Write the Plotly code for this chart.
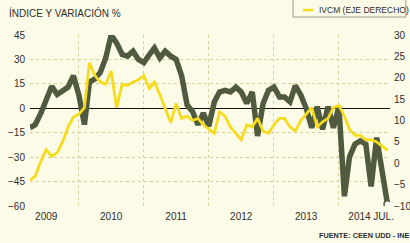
import pandas as pd
import plotly.graph_objects as go

# Monthly observations, Apr 2009 onward
start_month = "2009-04-01"
n_points = 67
months = pd.date_range(start_month, periods=n_points, freq="MS")

# Left axis series (índice)
indice = [
    -12, -10, -3, 5, 13.5, 8.5, 11, 13, 20, 8,
    -10, 16, 18, 22, 31, 45, 40, 33, 32, 35,
    30, 28, 33, 37, 31, 35, 32, 30, 20, 2,
    -2, -10, -3, -11, 4, 10, 11, 10, 13, 10,
    3, 10, -17, 3, 11, 13, 7, 7, 4, 14,
    8, 0, -12, 1, -13, 1, -12, 1, -54, -30,
    -22, -20, -22, -48, -18, -40, -59,
]

# Right axis series (IVCM, variación %)
ivcm = [
    -4, -3, 0.5, 3.2, 1.6, 2.5, 5, 8.5, 10.8, 11.5,
    13, 23.5, 20.5, 19, 18.5, 21.6, 13, 18.5, 18.2, 19,
    19.5, 20.5, 17.5, 19, 16, 13, 9.5, 14, 10.5, 11,
    10, 10.5, 9, 8, 7, 12, 11, 8.5, 7, 5.5,
    9, 8.5, 10.5, 7.5, 7, 9, 10.5, 10.5, 8.5, 7.5,
    10, 11.5, 13, 8.5, 9.7, 10.5, 13, 13.5, 11, 8,
    6.5, 6.5, 5.5, 5.5, 5, 4, 3,
]

year_label_dates = ["2009-07-01", "2010-07-01", "2011-07-01", "2012-07-01", "2013-07-01", "2014-07-01"]
year_labels = ["2009", "2010", "2011", "2012", "2013", "2014 JUL."]
year_bounds = ["2010-01-01", "2011-01-01", "2012-01-01", "2013-01-01", "2014-01-01"]
left_ticks = [45, 30, 15, 0, -15, -30, -45, -60]
right_ticks = [30, 25, 20, 15, 10, 5, 0, -5, -10]

series1_name = "ÍNDICE CEEN UDD"
series2_name = "IVCM (EJE DERECHO)"

BG = "#fcfbe7"
DARK = "#4f5a3e"
YELLOW = "#f6dc1c"
GRID = "#d6d19a"
TXT = "#2e2e2e"
FONT = "Liberation Sans Narrow, Arial Narrow, Liberation Sans, sans-serif"

fig = go.Figure()
fig.add_trace(go.Scatter(
    x=months, y=indice, name=series1_name, mode="lines",
    line=dict(color=DARK, width=5.5), yaxis="y", showlegend=False,
))
fig.add_trace(go.Scatter(
    x=months, y=ivcm, name=series2_name, mode="lines",
    line=dict(color=YELLOW, width=2.8), yaxis="y2", showlegend=False,
))
fig.add_trace(go.Scatter(
    x=[months[-1]], y=[indice[-1]], mode="markers", showlegend=False,
    marker=dict(color="white", size=7, line=dict(color=DARK, width=1.5)),
    yaxis="y",
))

# Legend box (top entry clipped by the top edge, as in the source)
legend_shapes = [
    dict(type="rect", xref="paper", yref="paper", x0=0.7306, x1=1.044, y0=1.105, y1=1.30,
         line=dict(color="#9a9a8a", width=1), fillcolor=BG, layer="above"),
    dict(type="line", xref="paper", yref="paper", x0=0.758, x1=0.786, y0=1.146, y1=1.146,
         line=dict(color=YELLOW, width=2.5), layer="above"),
    dict(type="line", xref="paper", yref="paper", x0=0.758, x1=0.786, y0=1.222, y1=1.222,
         line=dict(color=DARK, width=3), layer="above"),
]

fig.update_layout(
    width=410, height=243,
    margin=dict(l=30, r=20, t=35, b=37, autoexpand=False),
    paper_bgcolor=BG, plot_bgcolor=BG,
    font=dict(family=FONT, size=10, color=TXT),
    showlegend=False,
    shapes=legend_shapes,
    xaxis=dict(
        type="date",
        range=["2009-04-01", "2014-10-15"],
        tickmode="array", tickvals=year_label_dates, ticktext=year_labels,
        showgrid=False, ticks="", ticklabelstandoff=3,
        tickfont=dict(size=10, family=FONT, color=TXT),
        showline=False, zeroline=False,
        minor=dict(tickmode="array", tickvals=year_bounds, showgrid=True,
                   gridcolor=GRID, griddash="dot", gridwidth=1, ticks=""),
    ),
    yaxis=dict(
        range=[-60, 45], tickmode="array", tickvals=left_ticks,
        showgrid=True, gridcolor=GRID, griddash="dot", gridwidth=1,
        zeroline=True, zerolinecolor="#111111", zerolinewidth=1.2,
        ticks="", ticklabelstandoff=4,
        tickfont=dict(size=10, family=FONT, color=TXT),
        showline=False,
    ),
    yaxis2=dict(
        range=[-10, 30], tickmode="array", tickvals=right_ticks,
        overlaying="y", side="right", showgrid=False, zeroline=False,
        ticks="", ticklabelstandoff=3,
        tickfont=dict(size=10, family=FONT, color=TXT),
        showline=False,
    ),
    annotations=[
        dict(text="ÍNDICE Y VARIACIÓN %", xref="paper", yref="paper",
             x=-0.064, y=1.129, xanchor="left", yanchor="middle", showarrow=False,
             font=dict(size=10, family=FONT, color=TXT)),
        dict(text=series2_name, xref="paper", yref="paper",
             x=0.797, y=1.146, xanchor="left", yanchor="middle", showarrow=False,
             font=dict(size=8.5, family=FONT, color=TXT)),
        dict(text=series1_name, xref="paper", yref="paper",
             x=0.797, y=1.222, xanchor="left", yanchor="middle", showarrow=False,
             font=dict(size=8.5, family=FONT, color=TXT)),
        dict(text="<b>FUENTE: CEEN UDD - INE</b>", xref="paper", yref="paper",
             x=0.797, y=-0.175, xanchor="left", yanchor="middle", showarrow=False,
             font=dict(size=7.3, family=FONT, color=TXT)),
    ],
)

fig.write_html(
    "out.html",
    config={"displayModeBar": False},
    post_script="document.body.style.margin='0px';document.body.style.background='%s';" % BG,
)
